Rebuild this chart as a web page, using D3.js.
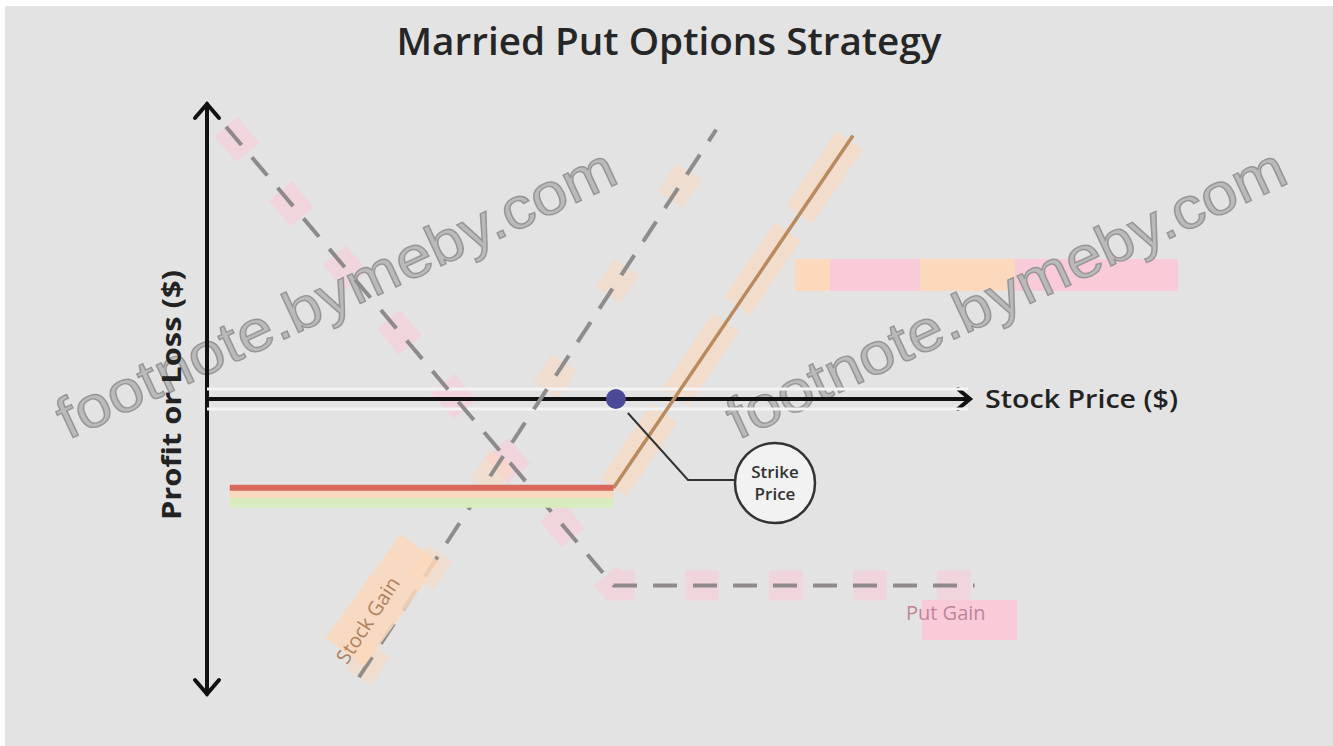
<!DOCTYPE html>
<html>
<head>
<meta charset="utf-8">
<script src="https://cdn.jsdelivr.net/npm/d3@7"></script>
<style>
  body { margin: 0; background: #fff; }
  svg { display: block; }
</style>
</head>
<body>
<svg id="chart" width="1333" height="746"></svg>
<script>
// chart values, in price / profit units
var titleText = "Married Put Options Strategy";
var xLabel = "Stock Price ($)";
var yLabel = "Profit or Loss ($)";
var strikePrice = 53.8;
var marriedPutX = [3, 53.5, 85];
var marriedPutY = [-30, -30, 89];
var putGainX = [2.5, 53.5, 101];
var putGainY = [92, -63, -63];
var stockX = [20, 67];
var stockY = [-94, 91];
var seriesLabels = ["Stock Gain", "Put Gain"];
var watermark = "footnote.bymeby.com";

var svg = d3.select("#chart");
var width = 1333, height = 746;

var x = d3.scaleLinear().domain([0, 100]).range([207, 967]);
var y = d3.scaleLinear().domain([-100, 100]).range([695, 103]);

function pts(xs, ys) { return xs.map(function(v, i) { return [v, ys[i]]; }); }
var line = d3.line().x(function(d) { return x(d[0]); }).y(function(d) { return y(d[1]); });

svg.append("rect").attr("x", 5).attr("y", 6).attr("width", width - 5).attr("height", height - 6)
  .attr("fill", "#e3e3e3");

// title
svg.append("text").attr("x", 669).attr("y", 55).attr("text-anchor", "middle")
  .attr("font-family", "Open Sans").attr("font-weight", 600).attr("font-size", 37)
  .attr("textLength", 545).attr("lengthAdjust", "spacingAndGlyphs")
  .attr("fill", "#262626").text(titleText);

// soft blocky halos under the lines
svg.append("path").attr("d", line(pts(marriedPutX.slice(1), marriedPutY.slice(1))))
  .attr("fill", "none").attr("stroke", "#fcd8bd").attr("stroke-width", 32).attr("opacity", 0.6)
  .attr("stroke-dasharray", "90,20");
svg.append("path").attr("d", line(pts(putGainX, putGainY)))
  .attr("fill", "none").attr("stroke", "#fbcbd9").attr("stroke-width", 30).attr("opacity", 0.55)
  .attr("stroke-dasharray", "34,50");
svg.append("path").attr("d", line(pts(stockX, stockY)))
  .attr("fill", "none").attr("stroke", "#fcd8bd").attr("stroke-width", 30).attr("opacity", 0.5)
  .attr("stroke-dasharray", "34,80");

// legend-like band on the right
var band = [["#fcd9bd", 795, 830], ["#f9cbd9", 830, 920], ["#fcd9bd", 920, 1015], ["#f9cbd9", 1015, 1178]];
svg.selectAll("rect.band").data(band).enter().append("rect").attr("class", "band")
  .attr("x", function(d) { return d[1]; }).attr("y", 259)
  .attr("width", function(d) { return d[2] - d[1]; }).attr("height", 32)
  .attr("fill", function(d) { return d[0]; });

// watermarks
[[68, 440], [738, 440]].forEach(function(p) {
  svg.append("text").attr("transform", "translate(" + p[0] + "," + p[1] + ") rotate(-25)")
    .attr("font-family", "Liberation Sans").attr("font-size", 58)
    .attr("textLength", 610).attr("lengthAdjust", "spacingAndGlyphs")
    .attr("fill", "#bababa").attr("stroke", "#969696").attr("stroke-width", 1.4)
    .text(watermark);
});

// axes
var axisG = svg.append("g").attr("stroke", "#111").attr("fill", "none")
  .attr("stroke-width", 4).attr("stroke-linecap", "round");
axisG.append("line").attr("x1", x(0)).attr("x2", x(0)).attr("y1", 104).attr("y2", 694);
axisG.append("path").attr("d", "M" + (x(0) - 12) + ",118 L" + x(0) + ",104 L" + (x(0) + 12) + ",118");
axisG.append("path").attr("d", "M" + (x(0) - 12) + ",680 L" + x(0) + ",694 L" + (x(0) + 12) + ",680");
svg.append("line").attr("x1", x(0)).attr("x2", 968).attr("y1", y(0) - 10).attr("y2", y(0) - 10)
  .attr("stroke", "#f4f4f4").attr("stroke-width", 3);
svg.append("line").attr("x1", x(0)).attr("x2", 968).attr("y1", y(0) + 10).attr("y2", y(0) + 10)
  .attr("stroke", "#f4f4f4").attr("stroke-width", 3);
axisG.append("line").attr("x1", x(0)).attr("x2", 969).attr("y1", y(0)).attr("y2", y(0));
axisG.append("path").attr("d", "M958," + (y(0) - 10) + " L970," + y(0) + " L958," + (y(0) + 10));

svg.append("text").attr("x", 985).attr("y", y(0) + 9)
  .attr("font-family", "Open Sans").attr("font-weight", 600).attr("font-size", 25)
  .attr("textLength", 193).attr("lengthAdjust", "spacingAndGlyphs")
  .attr("fill", "#222").text(xLabel);
svg.append("text").attr("transform", "translate(181,395) rotate(-90)").attr("text-anchor", "middle")
  .attr("font-family", "Open Sans").attr("font-weight", 700).attr("font-size", 27)
  .attr("textLength", 250).attr("lengthAdjust", "spacingAndGlyphs")
  .attr("fill", "#222").text(yLabel);

// put gain (dashed)
svg.append("path").attr("d", line(pts(putGainX, putGainY)))
  .attr("fill", "none").attr("stroke", "#8e8a8c").attr("stroke-width", 4)
  .attr("stroke-dasharray", "24,16");
// stock (dashed)
svg.append("path").attr("d", line(pts(stockX, stockY)))
  .attr("fill", "none").attr("stroke", "#908c8a").attr("stroke-width", 4)
  .attr("stroke-dasharray", "24,16");

// married put (solid)
svg.append("line").attr("x1", x(marriedPutX[0])).attr("x2", x(marriedPutX[1]))
  .attr("y1", y(marriedPutY[0]) + 14).attr("y2", y(marriedPutY[1]) + 14)
  .attr("stroke", "#d8ecc0").attr("stroke-width", 12);
svg.append("line").attr("x1", x(marriedPutX[0])).attr("x2", x(marriedPutX[1]))
  .attr("y1", y(marriedPutY[0]) + 6).attr("y2", y(marriedPutY[1]) + 6)
  .attr("stroke", "#fbd9c0").attr("stroke-width", 8);
svg.append("path").attr("d", line(pts(marriedPutX.slice(1), marriedPutY.slice(1))))
  .attr("fill", "none").attr("stroke", "#b88a5e").attr("stroke-width", 3.5);
svg.append("path").attr("d", line(pts(marriedPutX.slice(0, 2), marriedPutY.slice(0, 2))))
  .attr("fill", "none").attr("stroke", "#d9685c").attr("stroke-width", 6);

// series labels
var stockAngle = Math.atan2(y(stockY[1]) - y(stockY[0]), x(stockX[1]) - x(stockX[0])) * 180 / Math.PI;
svg.append("line").attr("x1", 345).attr("y1", 652).attr("x2", 420).attr("y2", 548)
  .attr("stroke", "#fcd9bd").attr("stroke-width", 48).attr("opacity", 0.85);
svg.append("text")
  .attr("transform", "translate(" + (x(stockX[0]) - 12) + "," + (y(stockY[0]) - 12) + ") rotate(" + stockAngle + ")")
  .attr("font-family", "Open Sans").attr("font-size", 20).attr("fill", "#b0805a")
  .text(seriesLabels[0]);
svg.append("rect").attr("x", 922).attr("y", 600).attr("width", 95).attr("height", 40)
  .attr("fill", "#f9cbd9");
svg.append("text").attr("x", 906).attr("y", 620)
  .attr("font-family", "Open Sans").attr("font-size", 20).attr("fill", "#c0849a")
  .text(seriesLabels[1]);

// strike price marker and callout
svg.append("path").attr("d", "M" + (x(strikePrice) + 12) + "," + (y(0) + 14) + " L688,480 L735,480")
  .attr("fill", "none").attr("stroke", "#333").attr("stroke-width", 2);
svg.append("circle").attr("cx", x(strikePrice)).attr("cy", y(0)).attr("r", 10).attr("fill", "#4a4a98");
svg.append("circle").attr("cx", 775).attr("cy", 483).attr("r", 40)
  .attr("fill", "#f2f2f2").attr("stroke", "#333").attr("stroke-width", 2.5);
svg.append("text").attr("x", 775).attr("y", 478).attr("text-anchor", "middle")
  .attr("font-family", "Open Sans").attr("font-weight", 600).attr("font-size", 17).attr("fill", "#333")
  .text("Strike");
svg.append("text").attr("x", 775).attr("y", 500).attr("text-anchor", "middle")
  .attr("font-family", "Open Sans").attr("font-weight", 600).attr("font-size", 17).attr("fill", "#333")
  .text("Price");
</script>
</body>
</html>
